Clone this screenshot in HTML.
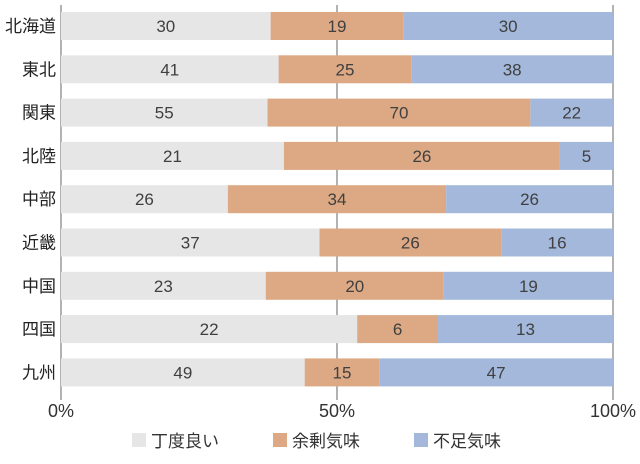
<!DOCTYPE html>
<html><head><meta charset="utf-8"><style>
body{margin:0;background:#fff;}
svg text{font-family:"Liberation Sans","Noto Sans CJK JP",sans-serif;}
</style></head><body>
<svg id="chart" width="640" height="459" xmlns="http://www.w3.org/2000/svg"></svg>
<script>
const categories=["北海道","東北","関東","北陸","中部","近畿","中国","四国","九州"];
const good=[30,41,55,21,26,37,23,22,49];
const surplus=[19,25,70,26,34,26,20,6,15];
const shortage=[30,38,22,5,26,16,19,13,47];
const seriesNames=["丁度良い","余剰気味","不足気味"];
const colors=["#e6e6e6","#dca984","#a3b8db"];
const tickLabels=["0%","50%","100%"];
const tickValues=[0,50,100];

const svg=document.getElementById('chart');
const NS="http://www.w3.org/2000/svg";
const x0=61,x1=613,top0=26,step=43.3,bh=28;
const xs=p=>x0+(x1-x0)*p/100;
const yc=i=>top0+i*step;
function mk(t,a){const e=document.createElementNS(NS,t);for(const k in a)e.setAttribute(k,a[k]);svg.appendChild(e);return e;}
tickValues.forEach((v,k)=>{
  const ln=mk('line',{x1:xs(v),x2:xs(v),y1:5,y2:400,stroke:'#666','stroke-width':1});
  
  
  const t=mk('text',{x:xs(v),y:417,'text-anchor':'middle','font-size':18,fill:'#333'});
  t.textContent=tickLabels[k];
  
  
});
const series=[good,surplus,shortage];
categories.forEach((c,i)=>{
  const tot=good[i]+surplus[i]+shortage[i];
  let acc=0;
  series.forEach((s,j)=>{
    const p0=acc/tot*100; acc+=s[i]; const p1=acc/tot*100;
    const r=mk('rect',{x:xs(p0),y:yc(i)-bh/2,width:xs(p1)-xs(p0),height:bh,fill:colors[j]});
    
    
    const t=mk('text',{x:(xs(p0)+xs(p1))/2,y:yc(i)+6,'text-anchor':'middle','font-size':17,fill:'#404040'});
    t.textContent=s[i];
    
    
  });
  const l=mk('text',{x:56,y:yc(i)+6,'text-anchor':'end','font-size':17,fill:'#222'});
  l.textContent=c;
  
  
});
const legX=[132,273,414];
seriesNames.forEach((n,j)=>{
  const r=mk('rect',{x:legX[j],y:433,width:14,height:14,fill:colors[j]});
  
  
  const t=mk('text',{x:legX[j]+19,y:447,'font-size':17,fill:'#333'});
  t.textContent=n;
  
  
});
</script>
</body></html>
